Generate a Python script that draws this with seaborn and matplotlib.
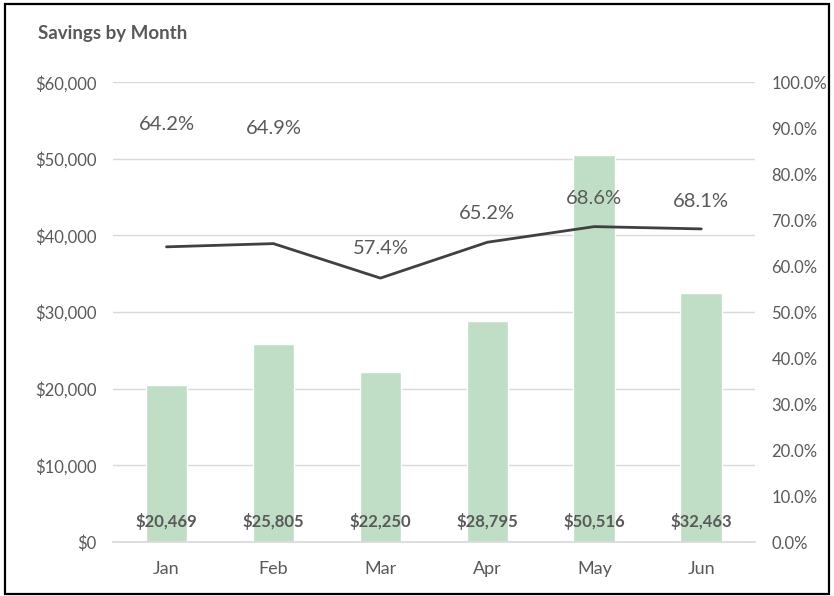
import matplotlib
matplotlib.use("Agg")
import matplotlib.pyplot as plt
import seaborn as sns
import numpy as np
import pandas as pd
from matplotlib.ticker import FuncFormatter, MultipleLocator

months = ["Jan", "Feb", "Mar", "Apr", "May", "Jun"]
savings = [20469, 25805, 22250, 28795, 50516, 32463]
rate = [0.642, 0.649, 0.574, 0.652, 0.686, 0.681]

# label offsets (points) for the percentage labels, as placed in the original
pct_offsets = [88, 83, 21, 21, 20, 20]

text_col = "#595959"
grid_col = "#D9D9D9"
bar_col = "#BFDEC5"
line_col = "#404040"

sns.set_theme(style="white")
plt.rcParams["font.family"] = ["Lato", "DejaVu Sans"]

df = pd.DataFrame({"month": months, "savings": savings, "rate": rate, "pos": np.arange(len(months))})

fig = plt.figure(figsize=(8.34, 5.96), dpi=100)
ax = fig.add_axes([0.1355, 0.0906, 0.7695, 0.7714])

sns.barplot(data=df, x="month", y="savings", color=bar_col, width=0.39,
            saturation=1, ax=ax, zorder=2)
ax.set_ylim(0, 60000)
ax.set_xlim(-0.5, 5.5)
ax.yaxis.set_major_locator(MultipleLocator(10000))
ax.yaxis.set_major_formatter(FuncFormatter(lambda v, p: "${:,.0f}".format(v)))
ax.grid(axis="y", color=grid_col, linewidth=1, zorder=0)
ax.set_axisbelow(True)
ax.set_xlabel("")
ax.set_ylabel("")
for s in ["top", "right", "left"]:
    ax.spines[s].set_visible(False)
ax.spines["bottom"].set_color(grid_col)
ax.tick_params(axis="y", length=0, labelsize=12, labelcolor=text_col, pad=12)
ax.tick_params(axis="x", length=0, labelsize=13, labelcolor=text_col, pad=14)
ax.set_xticks(np.arange(-0.5, 6.0, 1.0), minor=True)
ax.tick_params(axis="x", which="minor", length=6, color=grid_col, width=1, direction="out")

for i, v in enumerate(savings):
    ax.annotate("${:,.0f}".format(v), (i, 0), xytext=(0, 15), textcoords="offset points",
                ha="center", va="center", fontsize=12, fontweight="bold", color=text_col)

ax2 = ax.twinx()
sns.lineplot(data=df, x="pos", y="rate", color=line_col, linewidth=2, ax=ax2)
ax2.set_ylim(0, 1.0)
ax2.set_xlim(-0.5, 5.5)
ax2.yaxis.set_major_locator(MultipleLocator(0.1))
ax2.yaxis.set_major_formatter(FuncFormatter(lambda v, p: "{:.1%}".format(v)))
ax2.set_ylabel("")
ax2.set_xlabel("")
for s in ax2.spines.values():
    s.set_visible(False)
ax2.tick_params(axis="y", length=0, labelsize=12, labelcolor=text_col, pad=12)

for i, (r, off) in enumerate(zip(rate, pct_offsets)):
    ax2.annotate("{:.1%}".format(r), (i, r), xytext=(0, off), textcoords="offset points",
                 ha="center", va="center", fontsize=14.5, color=text_col)

fig.text(0.045, 0.944, "Savings by Month", fontsize=13.5, fontweight="bold", color=text_col,
         ha="left", va="center")

fig.patches.append(plt.Rectangle((0.006, 0.004), 0.988, 0.99, transform=fig.transFigure,
                                 fill=False, edgecolor="black", linewidth=1.6))

fig.savefig("out.png", dpi=100)
